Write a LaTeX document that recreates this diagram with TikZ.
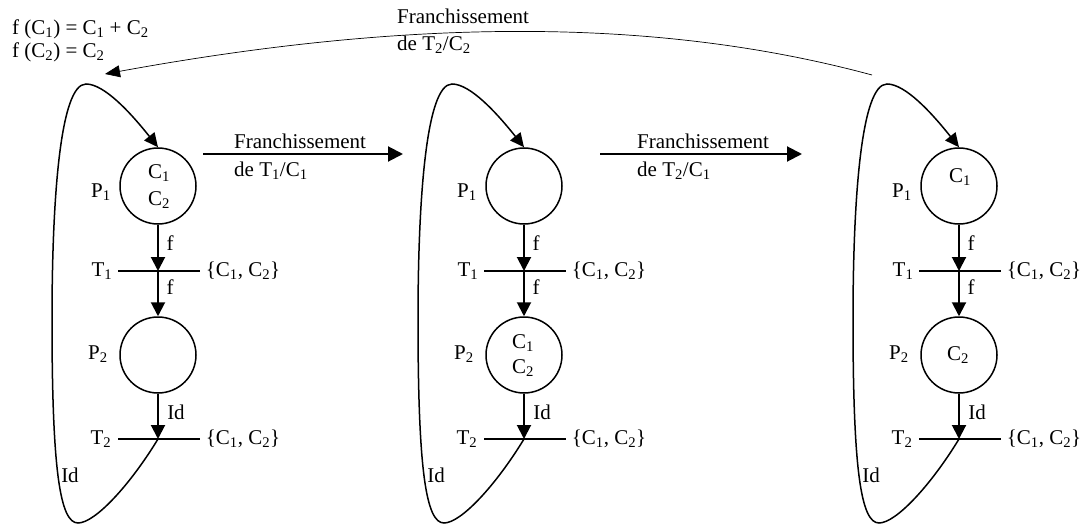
\documentclass[tikz,border=0pt]{standalone}
\usepackage{fontspec}
\setmainfont{Liberation Serif}
\usetikzlibrary{arrows.meta}
\newcommand\Cx[1]{C\textsubscript{#1}}
\newcommand\Tx[1]{T\textsubscript{#1}}
\newcommand\Px[1]{P\textsubscript{#1}}
\begin{document}
\begin{tikzpicture}[x=1pt,y=-1pt,
  place/.style={circle,draw,line width=1.5pt,minimum size=76pt,inner sep=0pt},
  lbl/.style={inner sep=0pt,font=\fontsize{21}{28}\selectfont},
  arcs/.style={line width=2pt,-{Triangle[length=14pt,width=14pt]}},
  tbar/.style={line width=2pt},
  loopc/.style={line width=1.5pt,-{Triangle[length=14pt,width=13pt]}},
  thinarc/.style={line width=0.7pt,-{Triangle[length=15pt,width=12pt]}},
  hflow/.style={line width=2pt,-{Triangle[length=15pt,width=15pt]}},
]
\useasboundingbox (0,0) rectangle (1084,524);
\foreach \s/\dx in {a/0,b/366,c/801}{
 \begin{scope}[xshift=\dx pt]
  \node[place] (P1\s) at (158,186) {};
  \coordinate (T1\s) at (158,271);
  \node[place] (P2\s) at (158,355) {};
  \coordinate (T2\s) at (158,439);
  \draw[tbar] ([xshift=-40pt]T1\s) -- ([xshift=42pt]T1\s);
  \draw[tbar] ([xshift=-40pt]T2\s) -- ([xshift=42pt]T2\s);
  \draw[arcs] (P1\s) -- (T1\s);
  \draw[arcs] (T1\s) -- (P2\s);
  \draw[arcs] (P2\s) -- (T2\s);
  \draw[loopc] (T2\s) .. controls (130,485) and (95,523) .. (78,523)
     .. controls (60,523) and (52,470) .. (52,320)
     .. controls (52,200) and (60,84) .. (86,84)
     .. controls (104,84) and (130,112) .. (P1\s.north);
  \node[lbl] (lP1\s) at (101,192) {\Px{1}};
  \node[lbl] (lT1\s) at (102,271) {\Tx{1}};
  \node[lbl] (lP2\s) at (98,354) {\Px{2}};
  \node[lbl] (lT2\s) at (101,439) {\Tx{2}};
  \node[lbl] (fa\s) at (170,243) {f};
  \node[lbl] (fb\s) at (170,287) {f};
  \node[lbl] (ida\s) at (176,412) {Id};
  \node[lbl] (idb\s) at (70,475) {Id};
  \node[lbl] (ca\s) at (243,271) {\{\Cx{1}, \Cx{2}\}};
  \node[lbl] (cb\s) at (243,439) {\{\Cx{1}, \Cx{2}\}};
 \end{scope}
}
% tokens
\node[lbl] (ka1) at (159,173) {\Cx{1}};
\node[lbl] (ka2) at (159,200) {\Cx{2}};
\node[lbl] (kb1) at (523,343) {\Cx{1}};
\node[lbl] (kb2) at (523,368) {\Cx{2}};
\node[lbl] (kc1) at (960,177) {\Cx{1}};
\node[lbl] (kc2) at (958,355) {\Cx{2}};
% horizontal firing arrows
\coordinate (h1s) at (203,154);
\coordinate (h1e) at (403,154);
\coordinate (h2s) at (600,154);
\coordinate (h2e) at (802,154);
\draw[hflow] (h1s) -- (h1e);
\draw[hflow] (h2s) -- (h2e);
\node[lbl,align=left,anchor=west] (fr1) at (234,157) {Franchissement\\de \Tx{1}/\Cx{1}};
\node[lbl,align=left,anchor=west] (fr2) at (637,157) {Franchissement\\de \Tx{2}/\Cx{1}};
% top return arc
\coordinate (ts) at (872,75);
\coordinate (te) at (105,74);
\draw[thinarc] (ts) .. controls (650,15) and (400,20) .. (te);
\node[lbl,align=left,anchor=west,font=\fontsize{21}{27}\selectfont] (fr3) at (397,31) {Franchissement\\de \Tx{2}/\Cx{2}};
% functions
\node[lbl,align=left,anchor=west,font=\fontsize{21}{23}\selectfont] (fn) at (12,41) {f (\Cx{1}) = \Cx{1} + \Cx{2}\\f (\Cx{2}) = \Cx{2}};
\end{tikzpicture}
\end{document}
